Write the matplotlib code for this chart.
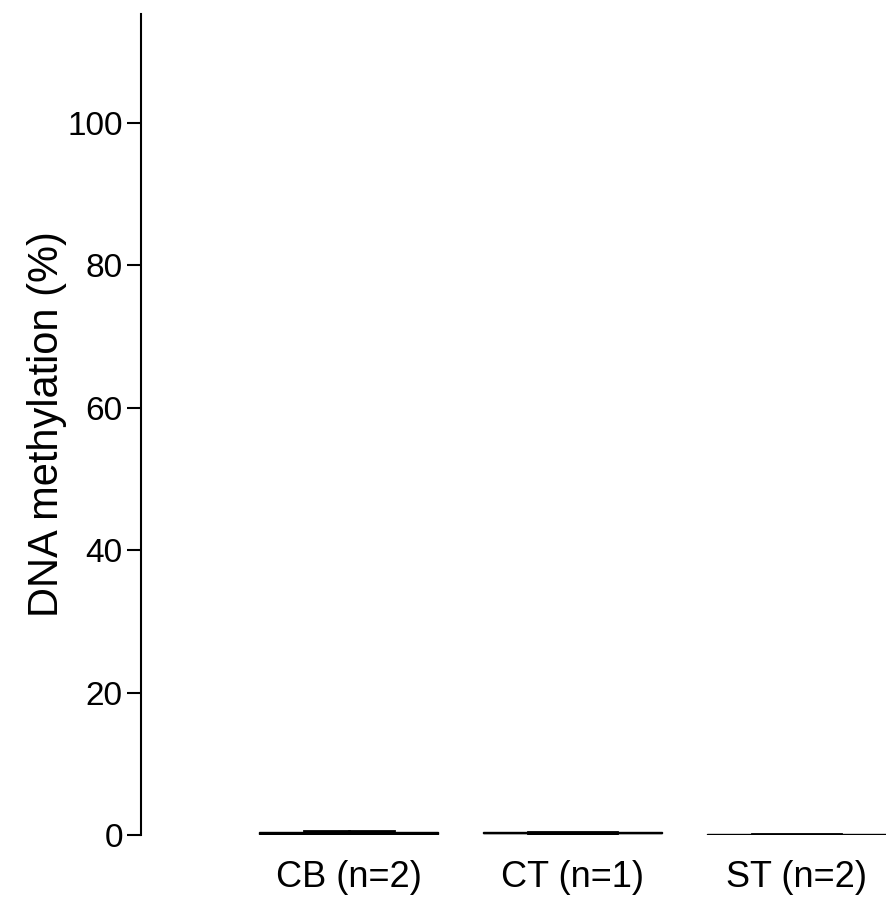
import matplotlib
matplotlib.use('Agg')
import matplotlib.pyplot as plt

plt.rcParams['font.family'] = ['Liberation Sans', 'DejaVu Sans']

# group labels and values (DNA methylation %)
groups = ['CB (n=2)', 'CT (n=1)', 'ST (n=2)']
cb_values = [0.05, 0.55]
ct_values = [0.15, 0.45]
st_values = [0.0, 0.1]
box_colors = ['black', '#1fb5b5', '#808080']
y_ticks = [0, 20, 40, 60, 80, 100]

fig = plt.figure(figsize=(8.86, 9.10), dpi=100)
ax = fig.add_axes([0.159, 0.0824, 0.841, 0.9022])

bp = ax.boxplot([cb_values, ct_values, st_values], positions=[0, 1, 2],
                widths=0.8, patch_artist=True, showfliers=False)
for patch, c in zip(bp['boxes'], box_colors):
    patch.set_facecolor(c)
    patch.set_edgecolor('black')
    patch.set_linewidth(1.0)
for line in bp['medians']:
    line.set_color('black')
    line.set_linewidth(1.0)
for line in bp['whiskers'] + bp['caps']:
    line.set_color('black')
    line.set_linewidth(2.0)

ax.set_xlim(-0.93, 2.4)
ax.set_ylim(0, 115.3)
ax.set_yticks(y_ticks)
ax.set_xticks([0, 1, 2])
ax.set_xticklabels(groups, fontsize=26)
ax.tick_params(axis='y', labelsize=24, length=10, width=1.5, pad=3)
ax.tick_params(axis='x', length=0, pad=18)
ax.set_ylabel('DNA methylation (%)', fontsize=30, labelpad=0)

for s in ['top', 'right', 'bottom']:
    ax.spines[s].set_visible(False)
ax.spines['left'].set_linewidth(1.5)

plt.savefig('out.png', dpi=100)
